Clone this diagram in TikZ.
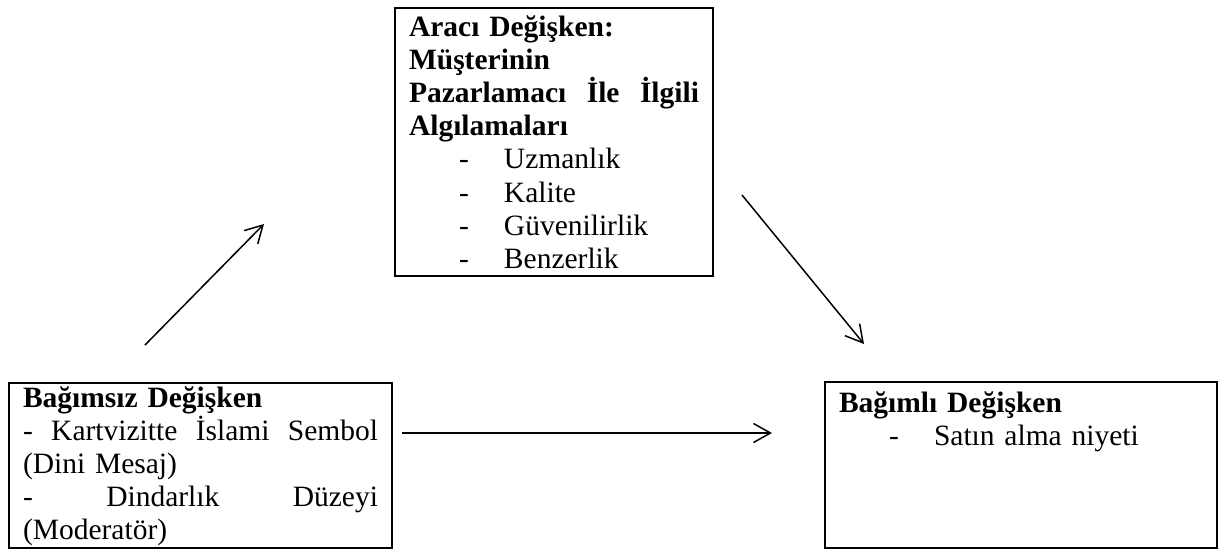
\documentclass[tikz,border=0pt]{standalone}
\usepackage{fontspec}
\setmainfont{Liberation Serif}
\usetikzlibrary{arrows.meta}

\newcommand{\itm}[1]{\hspace*{25pt}\makebox[22.5pt][l]{-}#1}

\begin{document}
\begin{tikzpicture}[
    x=0.5pt, y=-0.5pt,
    font=\fontsize{14.75pt}{16.6pt}\selectfont,
    box/.style={draw, line width=1.3pt, outer sep=0pt, anchor=north west,
                inner xsep=7pt, inner ysep=0pt, align=left},
    arr/.style={-{Straight Barb[length=8.5pt,width=9.5pt]}, line width=0.75pt},
]
\useasboundingbox (0,0) rectangle (1219,552);

\node[box, text width=145pt, text height=14pt, text depth=120pt] (araci) at (395,8)
    {\textbf{Aracı Değişken:}\\
     \textbf{Müşterinin}\\
     \textbf{Pazarlamacı\hfill İle\hfill İlgili}\\
     \textbf{Algılamaları}\\
     \itm{Uzmanlık}\\
     \itm{Kalite}\\
     \itm{Güvenilirlik}\\
     \itm{Benzerlik}};
\node[box, text width=177.5pt, text height=12pt, text depth=70.5pt] (bgmsz) at (9,383)
    {\textbf{Bağımsız Değişken}\\
     -\hfill Kartvizitte\hfill İslami\hfill Sembol\\
     (Dini Mesaj)\\
     -\hfill Dindarlık\hfill Düzeyi\\
     (Moderatör)};
\node[box, text width=182pt, text height=15pt, text depth=68pt] (bgmli) at (825,382)
    {\textbf{Bağımlı Değişken}\\
     \itm{Satın alma niyeti}};

% free arrow ends
\coordinate (up0) at (145,345);
\coordinate (up1) at (264,224);
\coordinate (dn0) at (742,195);
\coordinate (dn1) at (864,344);
\coordinate (hz0) at (402,433);
\coordinate (hz1) at (772,433);

\draw[arr] (up0) -- (up1);
\draw[arr] (dn0) -- (dn1);
\draw[arr] (hz0) -- (hz1);
\end{tikzpicture}
\end{document}
